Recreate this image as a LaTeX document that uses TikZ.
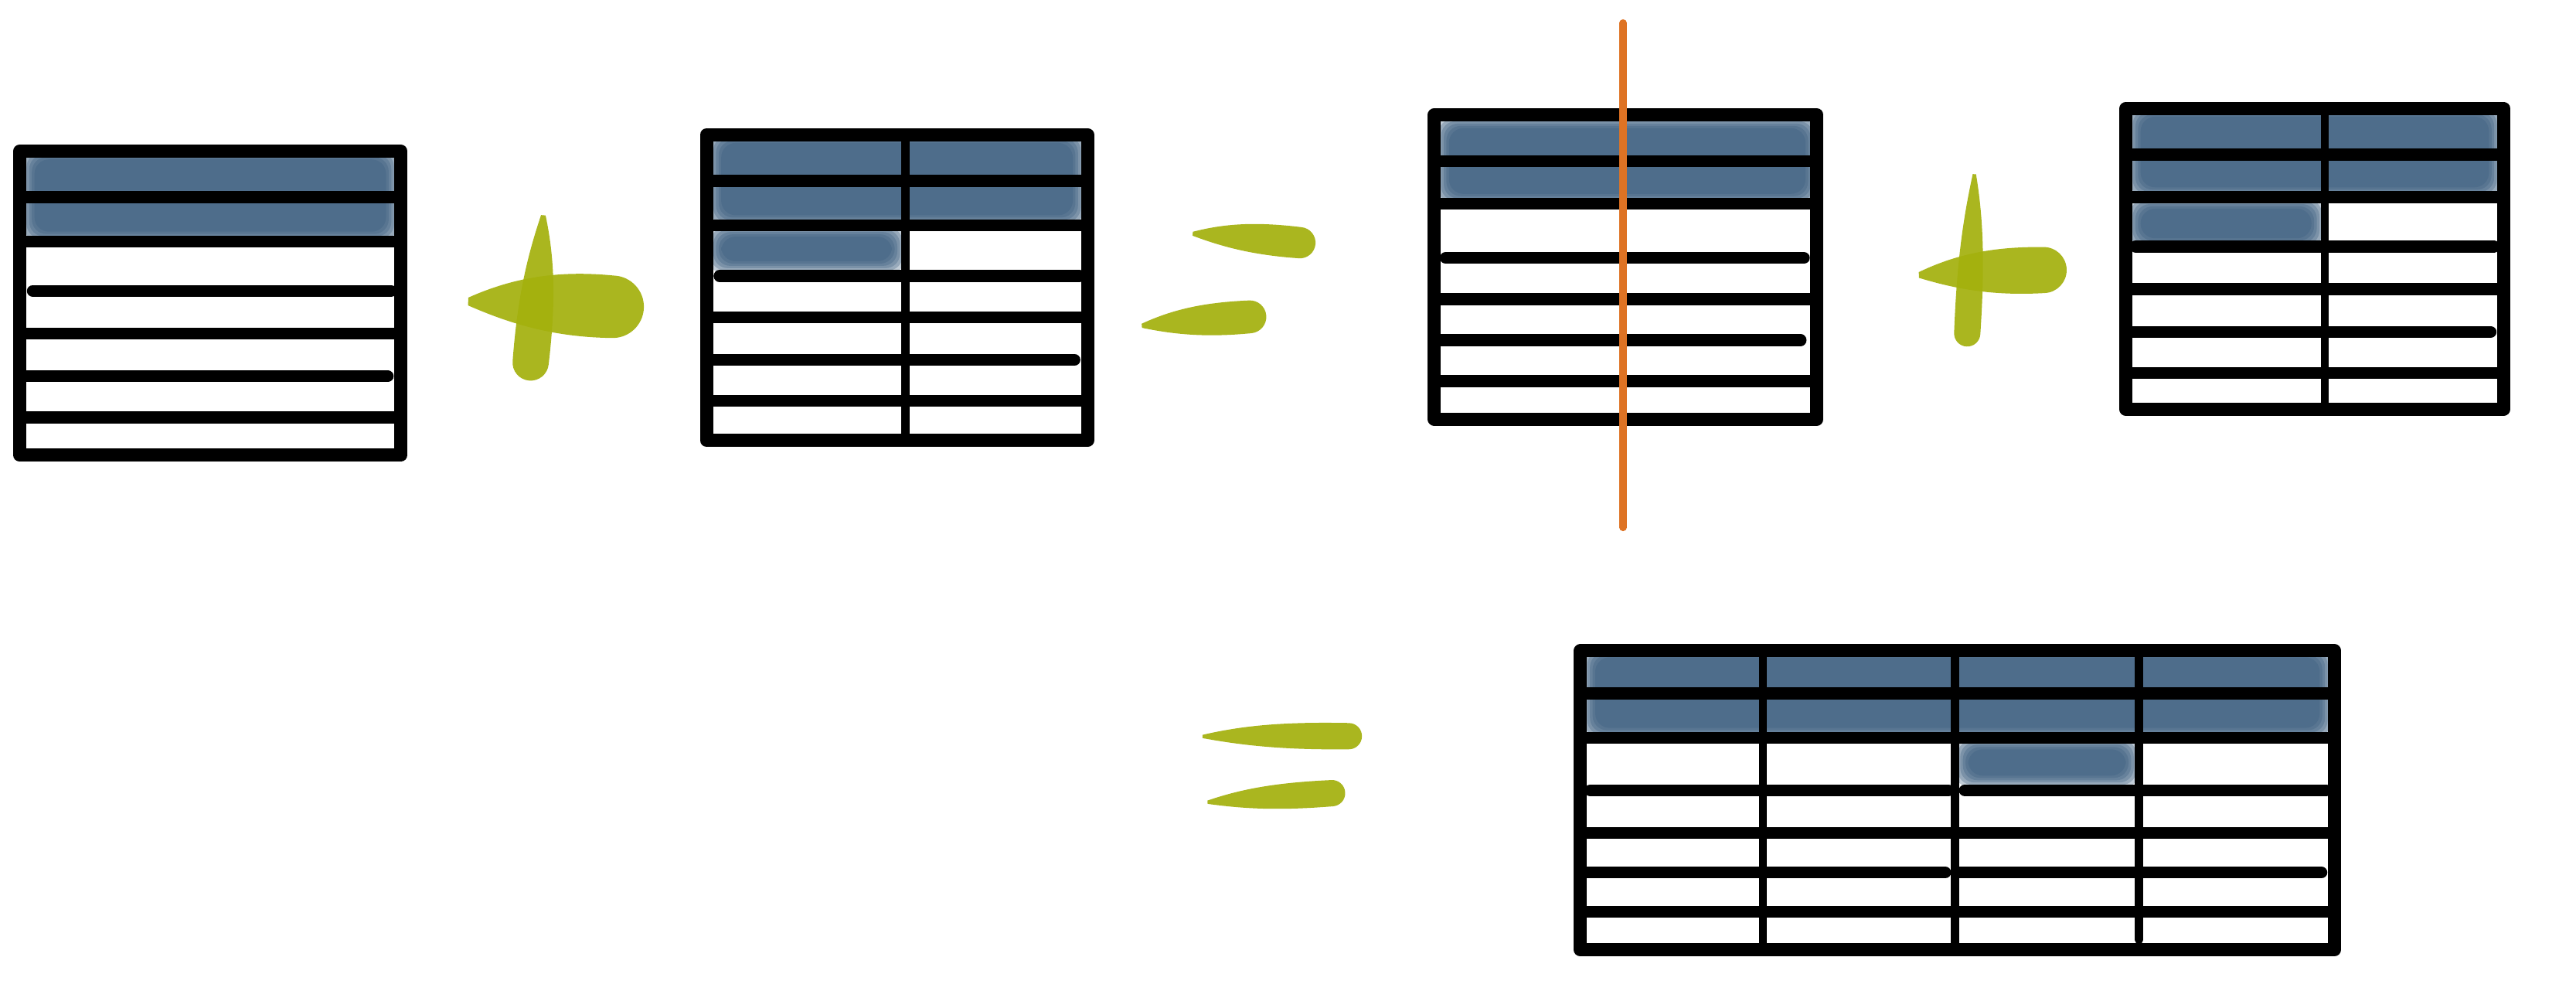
\documentclass[tikz,border=0pt]{standalone}
\usepackage{tikz}
\definecolor{wash}{HTML}{36597B}
\definecolor{leaf}{HTML}{A3B00C}
\definecolor{cut}{HTML}{DE7324}
\tikzset{frame/.style={draw=black,line width=1.6mm,line join=round},rule/.style={draw=black,line width=1.45mm,line cap=round},col/.style={draw=black,line width=1mm,line cap=round},cutline/.style={draw=cut,line width=0.9mm,line cap=round}}
% soft watercolour patch: x1, y1, x2, y2
\newcommand\paint[4]{\foreach \k in {0,...,5} \fill[wash,fill opacity=0.3,rounded corners=5] ({#1+1.6*\k},{#2+1.4*\k}) rectangle ({#3-1.6*\k},{#4-1.4*\k});}
% brush stroke: tail x, tail y, angle, length, head radius
\newcommand\blob[5]{\fill[leaf,fill opacity=0.92,shift={(#1,#2)},rotate=#3] (0,{-0.1*#5}) .. controls ({0.25*#4},{-0.8*#5}) and ({0.5*#4},{-1.1*#5}) .. ({#4-#5},-#5) arc[start angle=-90,end angle=90,radius=#5] .. controls ({0.5*#4},{1.05*#5}) and ({0.25*#4},{0.7*#5}) .. (0,{0.15*#5}) -- cycle;}

\begin{document}
\begin{tikzpicture}[x=0.2mm,y=-0.2mm]
\useasboundingbox (0,0) rectangle (1568,607);
% table 1
\paint{13}{90}{243}{148}
\draw[frame] (12,92) rectangle (244,277);
\foreach \y/\a/\b in {120/12/244,147/12/244,177/20/238,203/12/244,229/12/236,254/12/244} \draw[rule] (\a,\y) -- (\b,\y);
% plus
\blob{331}{131}{-95.1}{101}{11}
\blob{285}{183}{-2.4}{107}{19}
% table 2
\paint{431}{80}{661}{138}
\paint{431}{137}{551}{166}
\draw[frame] (430,82) rectangle (662,268);
\draw[col] (551,82) -- (551,268);
\foreach \y/\a/\b in {110/430/662,137/430/662,168/438/657,193/430/662,219/430/654,244/430/662} \draw[rule] (\a,\y) -- (\b,\y);
% equals
\blob{726}{142}{-5}{75}{9.5}
\blob{695}{198}{4.5}{76}{10}
% table 3 with cut
\paint{874}{71}{1107}{125}
\draw[frame] (873,70) rectangle (1106,255);
\foreach \y/\a/\b in {98/873/1106,124/873/1106,157/880/1098,182/873/1106,207/876/1096,232/873/1106} \draw[rule] (\a,\y) -- (\b,\y);
\draw[cutline] (988,14) -- (988,321);
% plus
\blob{1202}{106}{-92.7}{105}{8}
\blob{1168}{167}{2}{90}{14}
% table 4
\paint{1295}{64}{1523}{121}
\paint{1295}{120}{1415}{152}
\draw[frame] (1294,66) rectangle (1524,249);
\draw[col] (1415,66) -- (1415,249);
\foreach \y/\a/\b in {94/1294/1524,120/1294/1524,150/1300/1518,176/1294/1524,202/1296/1516,227/1294/1524} \draw[rule] (\a,\y) -- (\b,\y);
% equals
\blob{732}{448}{0}{97}{8}
\blob{735}{488}{4}{84}{8}
% table 5
\paint{963}{393}{1420}{450}
\paint{1190}{449}{1302}{479}
\draw[frame] (962,396) rectangle (1421,578);
\draw[col] (1073,396) -- (1073,578) (1190,396) -- (1190,578) (1302,396) -- (1302,572);
\foreach \y/\a/\b in {422/962/1421,449/962/1421,481/968/1186,481/1196/1416,507/962/1421,531/964/1184,531/1193/1413,555/962/1421} \draw[rule] (\a,\y) -- (\b,\y);
\end{tikzpicture}
\end{document}
